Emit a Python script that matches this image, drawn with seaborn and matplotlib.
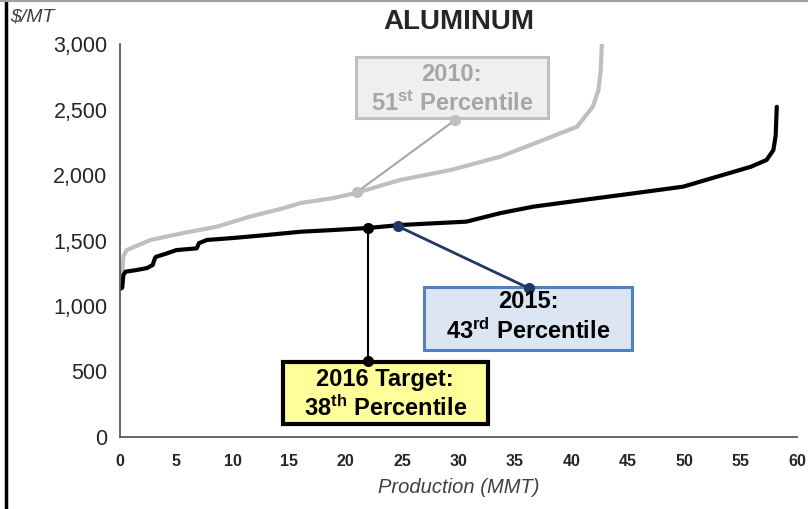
import matplotlib
matplotlib.use('Agg')

import matplotlib.pyplot as plt
import numpy as np
import pandas as pd
import seaborn as sns
from matplotlib.lines import Line2D
from matplotlib.patches import Rectangle

# cost curve 2016 (black) and 2010 (gray): cumulative production vs cost
black_x = [0, 0.2, 0.3, 0.5, 1.5, 2.4, 2.9, 3.1, 3.2, 4.1, 5.0, 6.8, 7.0, 7.7, 10, 13, 16, 18.9, 21.9,
           24.8, 27.5, 30.7, 33.7, 36.6, 41, 45.5, 49.9, 52.9, 55.9, 57.3, 57.9, 58.1, 58.2]
black_y = [1130, 1140, 1237, 1262, 1275, 1290, 1313, 1366, 1376, 1400, 1427, 1440, 1480, 1504, 1519, 1542, 1567, 1580, 1595,
           1618, 1630, 1644, 1709, 1758, 1809, 1860, 1911, 1987, 2063, 2115, 2191, 2300, 2521]
gray_x = [0, 0.2, 0.3, 0.6, 2.7, 5.6, 8.6, 11.5, 14.5, 16, 18.9, 21, 24.8, 29.3, 33.7, 37.5,
          40.5, 41.9, 42.4, 42.6, 42.7]
gray_y = [1250, 1260, 1380, 1427, 1504, 1557, 1606, 1682, 1747, 1786, 1824, 1865, 1962, 2038, 2140, 2267,
          2369, 2521, 2650, 2800, 3000]

# annotation anchors: point on curve -> point on box
lead_2010 = ([21.0, 29.7], [1870, 2420])
lead_2015 = ([24.6, 36.2], [1610, 1137])
lead_2016 = ([22.0, 22.0], [1595, 580])

sns.set_style('white')
plt.rcParams['font.family'] = ['Liberation Sans', 'DejaVu Sans']
plt.rcParams['mathtext.fontset'] = 'custom'
plt.rcParams['mathtext.rm'] = 'Liberation Sans:bold'
plt.rcParams['mathtext.default'] = 'rm'

fig = plt.figure(figsize=(8.08, 5.09), dpi=100)
ax = fig.add_axes([0.1485, 0.1415, 0.838, 0.772])

sns.lineplot(x=gray_x, y=gray_y, estimator=None, sort=False,
             color='#BFBFBF', linewidth=3, ax=ax)
sns.lineplot(x=black_x, y=black_y, estimator=None, sort=False,
             color='black', linewidth=3, ax=ax)

ax.set_xlim(0, 60)
ax.set_ylim(0, 3000)
ax.set_xticks(range(0, 61, 5))
ax.set_yticks(range(0, 3001, 500))
ax.set_yticklabels([f'{v:,}' for v in range(0, 3001, 500)], fontsize=15.5, color='#262626')
ax.set_xticklabels([str(v) for v in range(0, 61, 5)], fontsize=11.5, fontweight='bold', color='#262626')
for side in ['top', 'right']:
    ax.spines[side].set_visible(False)
for side in ['left', 'bottom']:
    ax.spines[side].set_color('#595959')
    ax.spines[side].set_linewidth(1.3)
ax.tick_params(axis='both', direction='out', length=5, width=1.3, color='#595959', pad=4)
ax.tick_params(axis='x', pad=7)
ax.set_xlabel('Production (MMT)', fontsize=14.5, fontstyle='italic', color='#404040', labelpad=7)

fig.text(0.568, 0.957, 'ALUMINUM', ha='center', va='center', fontsize=20, fontweight='bold')
fig.text(0.012, 0.967, '$/MT', ha='left', va='center', fontsize=14, fontstyle='italic', color='#404040')


def callout(lead, line_color, dot_color, lw, box, face, edge, blw, lines, text_color, cx):
    ax.plot(lead[0], lead[1], color=line_color, linewidth=lw, zorder=4)
    ax.plot(lead[0], lead[1], 'o', color=dot_color, markersize=7, zorder=5)
    x0, x1, y0, y1 = box
    ax.add_patch(Rectangle((x0, y0), x1 - x0, y1 - y0, facecolor=face, edgecolor=edge,
                           linewidth=blw, zorder=3))
    for y, s in lines:
        ax.text(cx, y, s, ha='center', va='center', fontsize=17, fontweight='bold',
                color=text_color, zorder=6)


callout(lead_2010, '#A6A6A6', '#BFBFBF', 1.5, (20.9, 37.9, 2435, 2901), '#EFEFEF', '#BFBFBF', 2.2,
        [(2770, '2010:'), (2545, '51$^{st}$ Percentile')], '#A6A6A6', 29.4)
callout(lead_2015, '#1F3864', '#1F3864', 2, (26.95, 45.4, 664, 1145), '#DCE6F2', '#4F81BD', 2.2,
        [(1035, '2015:'), (805, '43$^{rd}$ Percentile')], 'black', 36.2)
callout(lead_2016, 'black', 'black', 1.5, (14.45, 32.6, 99, 573), '#FFFF99', 'black', 3,
        [(440, '2016 Target:'), (222, '38$^{th}$ Percentile')], 'black', 23.5)

# frame lines of the original slide
fig.add_artist(Line2D([0.007, 0.007], [0, 1], color='black', linewidth=2.5, transform=fig.transFigure))
fig.add_artist(Line2D([0, 1], [0.998, 0.998], color='#A0A0A0', linewidth=1.5, transform=fig.transFigure))

fig.savefig('out.png', dpi=100)
